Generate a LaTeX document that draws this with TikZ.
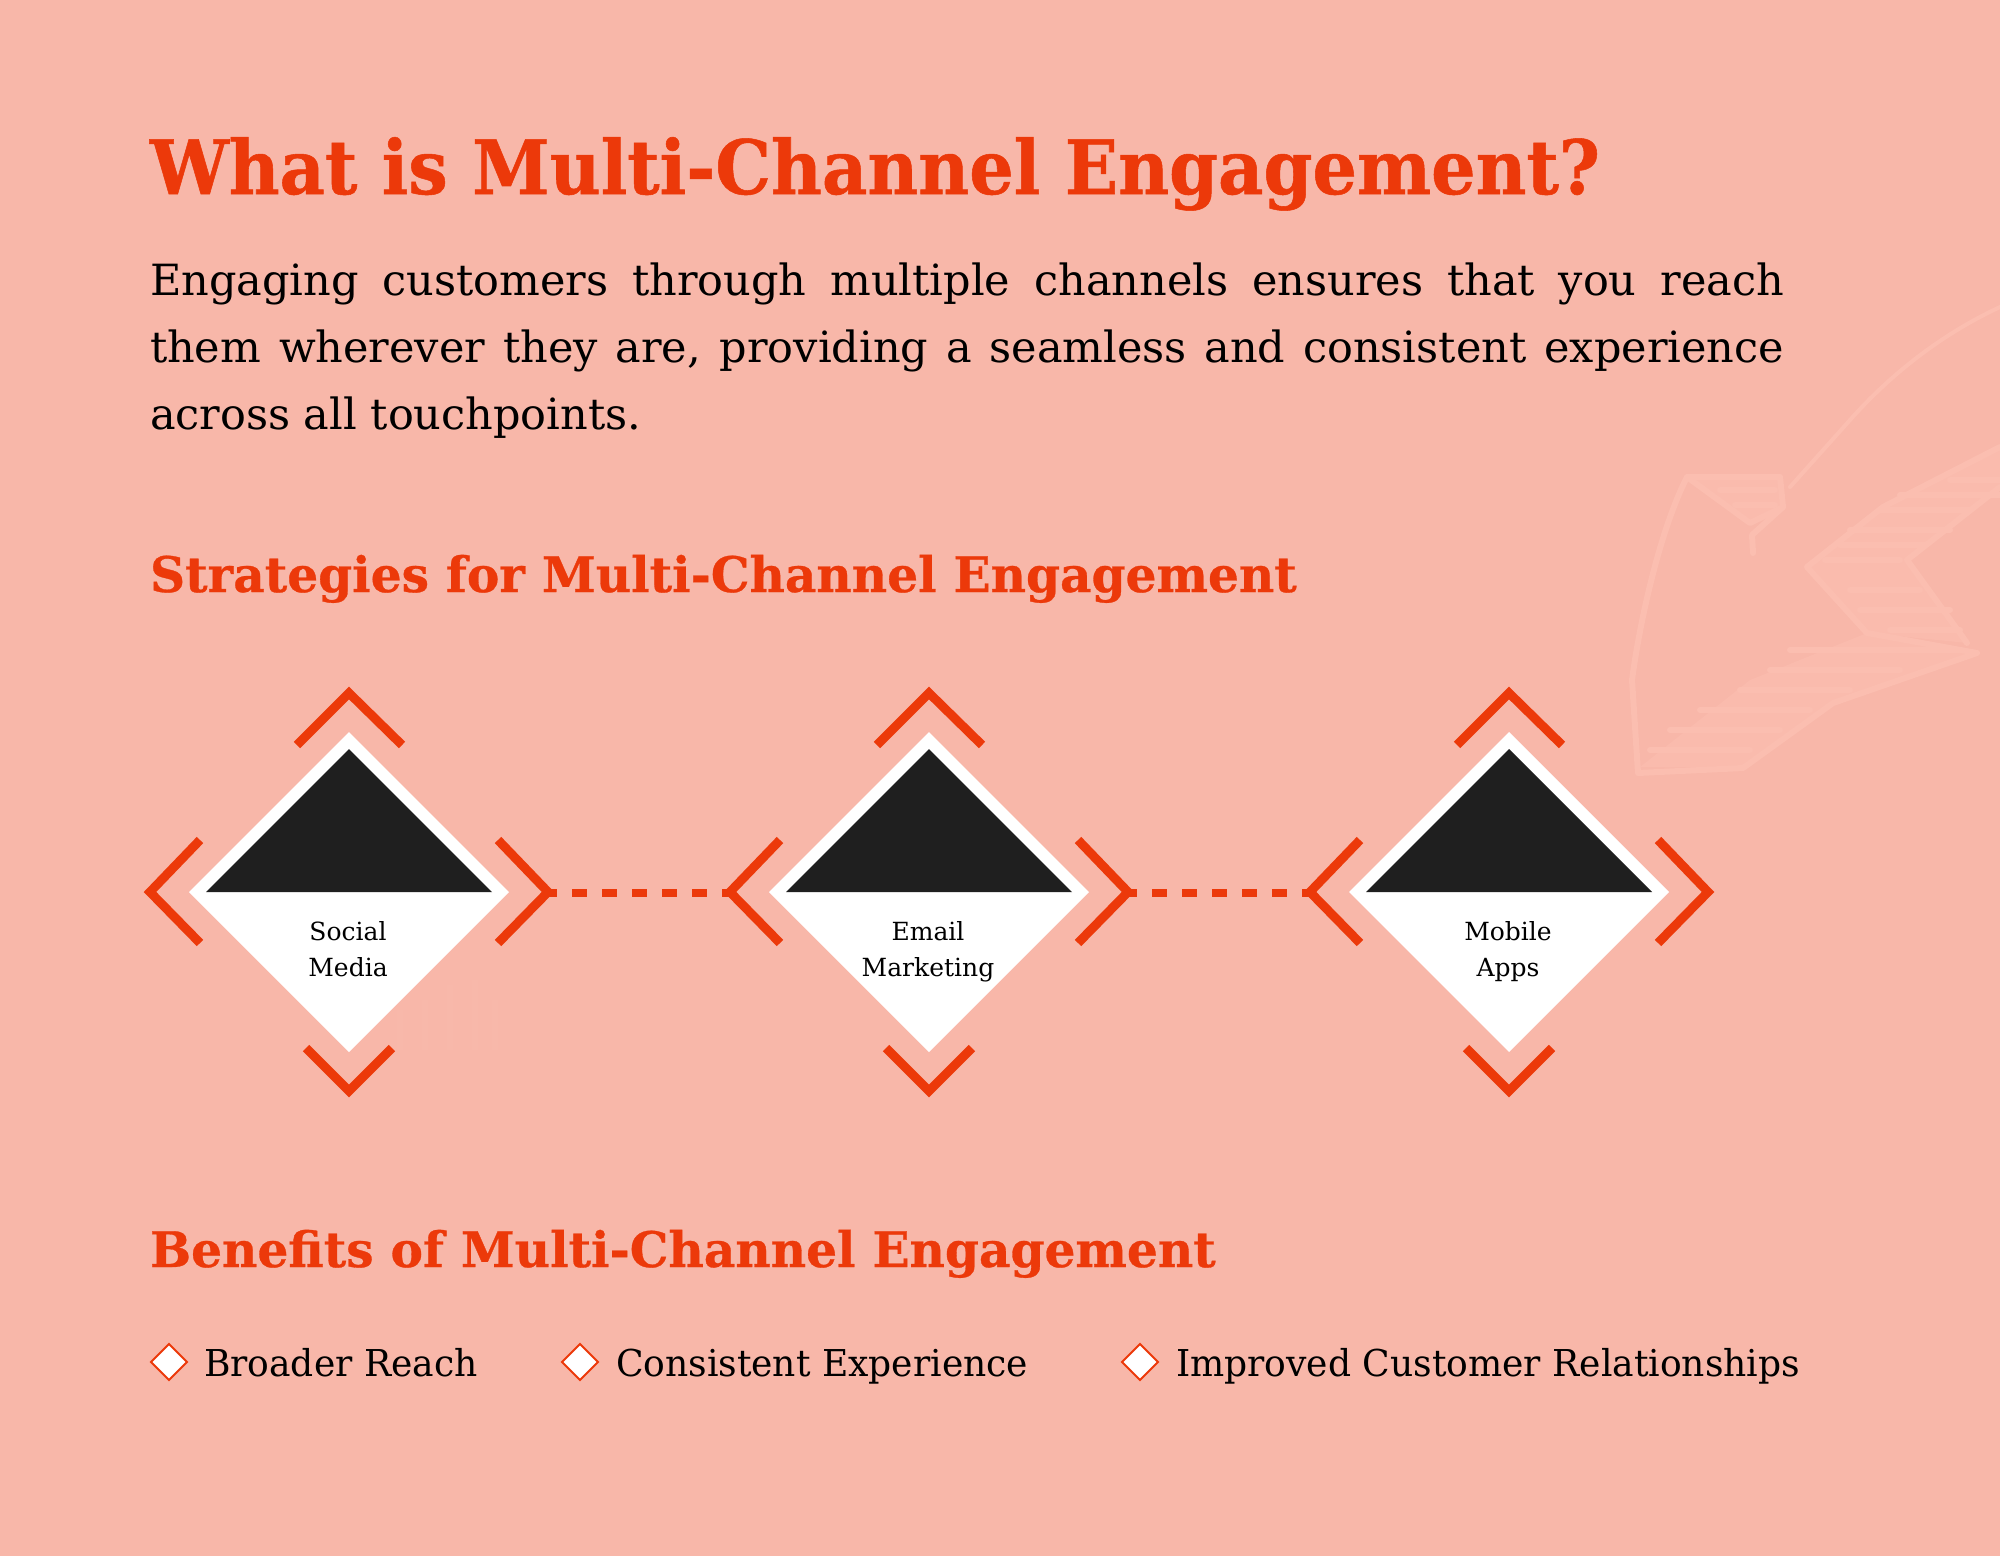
\documentclass[tikz,border=0pt]{standalone}
\usepackage{fontspec}
\setmainfont{DejaVu Serif}
\newfontfamily\headfont{DejaVu Serif Bold}[FakeStretch=0.934,FakeBold=0.7]
\newfontfamily\subfont{DejaVu Serif Bold}[FakeStretch=0.993,FakeBold=0.6]
\newfontfamily\itemfont{DejaVu Serif}[FakeStretch=0.975]
\definecolor{bgpink}{HTML}{F8B7A9}
\definecolor{wmark}{HTML}{FBBEB0}
\definecolor{wfill}{HTML}{FABBAD}
\definecolor{accent}{HTML}{EC390A}
\definecolor{inkdark}{HTML}{1F1F1F}
\tikzset{
  px/.style={x=1pt,y=-1pt},
  chev/.style={draw=accent,line width=9pt,miter limit=10,line join=miter},
  link/.style={draw=accent,line width=8pt,dash pattern=on 15pt off 15pt,dash phase=4pt},
  wm/.style={draw=wmark,line width=6pt,line cap=round,line join=round},
  wmh/.style={draw=wmark,line width=6pt,line cap=round},
  wmf/.style={fill=wfill},
  txt/.style={anchor=base west,inner sep=0pt,outer sep=0pt},
  lab/.style={anchor=base,inner sep=0pt,outer sep=0pt,font=\fontsize{25}{30}\selectfont,text=black},
  hone/.style={txt,font=\headfont\fontsize{75}{90}\selectfont,text=accent},
  htwo/.style={txt,font=\subfont\fontsize{49}{59}\selectfont,text=accent},
  body/.style={txt,font=\fontsize{43}{67}\selectfont,text=black},
  item/.style={txt,font=\itemfont\fontsize{37}{44}\selectfont,text=black},
  bullet/.style={draw=accent,fill=white,line width=2pt,line join=miter},
}
\newcommand{\channel}[4]{%
  \begin{scope}[shift={(#1,892)}]
    \fill[white] (0,-160) -- (160,0) -- (0,160) -- (-160,0) -- cycle;
    \fill[inkdark] (0,-143) -- (143,0) -- (-143,0) -- cycle;
    \draw[chev] (-52,-147) -- (0,-199) -- (53,-147);
    \draw[chev] (-43,156) -- (0,199) -- (43,156);
    \draw[chev] (-149,-52) -- (-199,0) -- (-149,51);
    \draw[chev] (149,-52) -- (199,0) -- (149,51);
    \coordinate (#2L) at (-199,1);
    \coordinate (#2R) at (197,1);
    \node[lab] (#2a) at (-1,48) {#3};
    \node[lab] (#2b) at (-1,84) {#4};
  \end{scope}}
\newcommand{\benefit}[4]{%
  \draw[bullet] (#1,1344) -- ++(18,18) -- ++(-18,18) -- ++(-18,-18) -- cycle;
  \node[item] (#3) at (#2,1376) {#4};}
\begin{document}
\begin{tikzpicture}[px]
\useasboundingbox (0,0) rectangle (2000,1556);
\fill[bgpink] (0,0) rectangle (2000,1556);
% watermark arrow
\fill[wmf] (1640,767) -- (1743,768) -- (1833,703) -- (1977,653) -- (1867,633) -- (1750,680) -- cycle;
\fill[wmf] (1807,567) -- (1883,507) -- (2000,447) -- (2000,487) -- (1907,560) -- (1967,643) -- (1867,633) -- cycle;
\fill[wmf] (1687,477) -- (1780,477) -- (1783,507) -- (1750,523) -- cycle;
\draw[wm,line width=4pt] (2000,307) .. controls (1940,335) and (1890,375) .. (1850,420) -- (1790,487);
\draw[wm] (1753,553) -- (1752,535) -- (1783,507) -- (1780,477) -- (1687,477) .. controls (1660,530) and (1640,620) .. (1632,680) -- (1638,773) -- (1743,768) -- (1833,703) -- (1977,653) -- (1867,633) -- (1807,567) -- (1883,507) -- (2000,447);
\draw[wm] (2000,487) -- (1907,560) -- (1967,643);
\draw[wm] (1687,477) -- (1750,523) -- (1783,507);
\foreach \y/\a/\b in {530/1850/1950,545/1840/1925,560/1825/1900,590/1850/1920,610/1860/1950,630/1890/1960,650/1790/1960,670/1770/1900,690/1740/1850,710/1700/1810,730/1670/1780,750/1650/1750,480/1950/2000,495/1900/2000,510/1880/1970,490/1720/1775,505/1735/1775}{\draw[wmh] (\a,\y) -- (\b,\y);}
\foreach \x/\t in {400/1010,425/1000,450/985,475/980,495/1000}{\draw[line width=6pt,draw=wfill!25!bgpink] (\x,\t) -- (\x,1050);}
% text
\node[hone] (title) at (150,194) {What is Multi-Channel Engagement?};
\node[body,text width=1634pt,align=justify,anchor=north west] (para) at (150,263) {Engaging customers through multiple channels ensures that you reach\linebreak them wherever they are, providing a seamless and consistent experience\linebreak across all touchpoints.};
\node[htwo] (strat) at (150,592) {Strategies for Multi-Channel Engagement};
\node[htwo] (bene) at (150,1267) {Benefits of Multi-Channel Engagement};
% channels
\channel{349}{c1}{Social}{Media}
\channel{929}{c2}{Email}{Marketing}
\channel{1509}{c3}{Mobile}{Apps}
\draw[link] (c1R) -- (c2L);
\draw[link] (c2R) -- (c3L);
% benefits
\benefit{169}{204}{b1}{Broader Reach}
\benefit{580}{616}{b2}{Consistent Experience}
\benefit{1140}{1176}{b3}{Improved Customer Relationships}
\end{tikzpicture}
\end{document}
